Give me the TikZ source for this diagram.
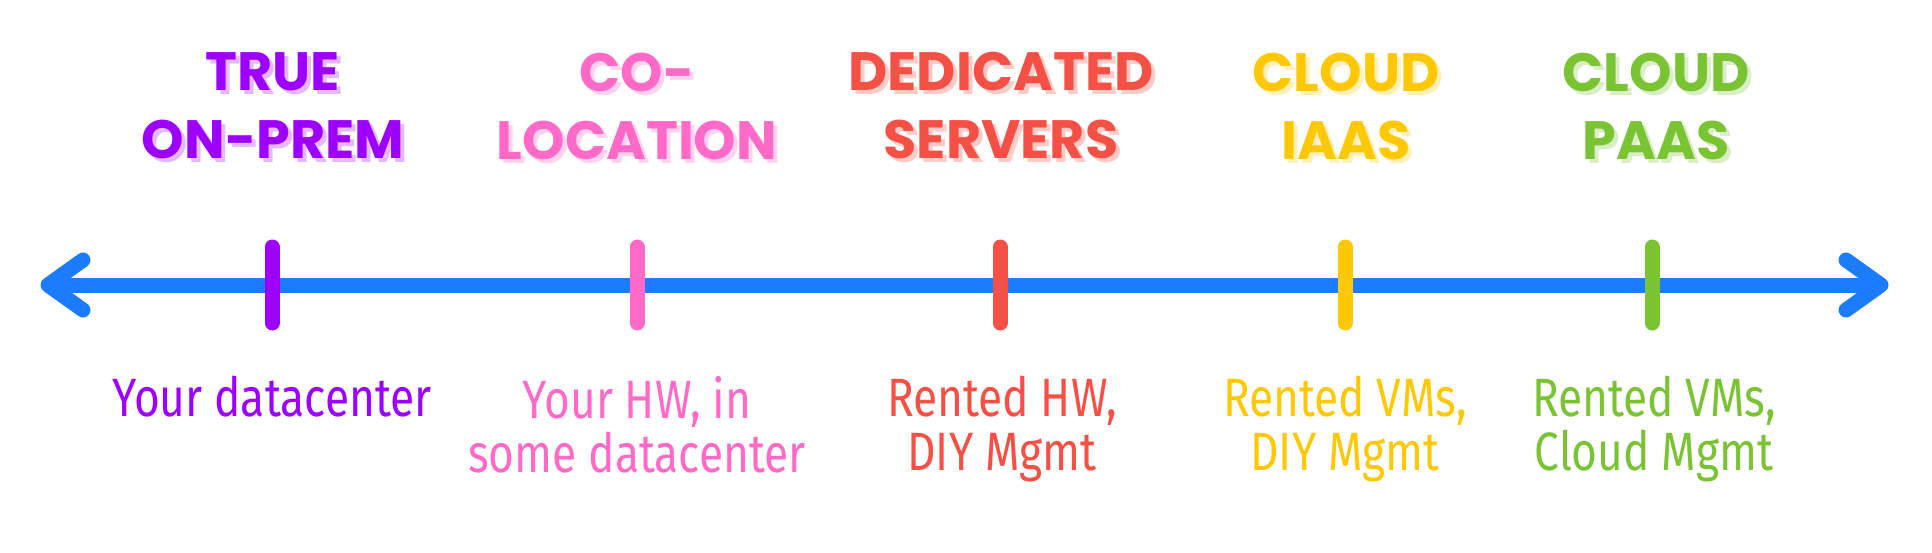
\documentclass[tikz,border=0pt]{standalone}
\usepackage{fontspec}
\usetikzlibrary{calc}
\setmainfont{Fira Sans}[FakeStretch=0.82]
\newfontfamily\titlefont{Poppins}
\definecolor{cpurple}{HTML}{9D00FF}
\definecolor{cpink}{HTML}{FF69C8}
\definecolor{cred}{HTML}{F55045}
\definecolor{cyellow}{HTML}{FFC805}
\definecolor{cgreen}{HTML}{7AC434}
\definecolor{cblue}{HTML}{1C7CFF}
\begin{document}
\begin{tikzpicture}[x=1pt,y=-1pt,
  axisline/.style={draw=cblue,line width=15pt,line cap=butt},
  chevron/.style={draw=cblue,line width=15pt,line cap=round,line join=round},
  tickmark/.style={line width=15pt,line cap=round},
  titletext/.style={inner sep=0pt,align=center,font=\titlefont\bfseries\fontsize{54}{68}\selectfont},
  desctext/.style={inner sep=0pt,align=center,anchor=north,font=\fontsize{54}{54}\selectfont}]
\useasboundingbox (0,0) rectangle (1932,552);
% axis
\coordinate (L) at (48,285);
\coordinate (R) at (1881,285);
\draw[axisline] (L) -- (R);
\draw[chevron] ($(L)+(35,-25)$) -- (L) -- ($(L)+(35,25)$);
\draw[chevron] ($(R)+(-35,-25)$) -- (R) -- ($(R)+(-35,25)$);
% ticks
\draw[tickmark,cpurple] (272,247) -- (272,323);
\draw[tickmark,cpink] (637,247) -- (637,323);
\draw[tickmark,cred] (1000,247) -- (1000,323);
\draw[tickmark,cyellow] (1345,247) -- (1345,323);
\draw[tickmark,cgreen] (1652,247) -- (1652,323);
% titles (shadow + main)
\node[titletext,text=cpurple!28] (t1s) at (277,110) {TRUE\\ON-PREM};
\node[titletext,text=cpurple] (t1) at (273,106) {TRUE\\ON-PREM};
\node[titletext,text=cpink!30] (t2s) at (641,110) {CO-\\LOCATION};
\node[titletext,text=cpink] (t2) at (637,106) {CO-\\LOCATION};
\node[titletext,text=cred!30] (t3s) at (1005,110) {DEDICATED\\SERVERS};
\node[titletext,text=cred] (t3) at (1001,106) {DEDICATED\\SERVERS};
\node[titletext,text=cyellow!28] (t4s) at (1350,110) {CLOUD\\IAAS};
\node[titletext,text=cyellow] (t4) at (1346,106) {CLOUD\\IAAS};
\node[titletext,text=cgreen!28] (t5s) at (1660,110) {CLOUD\\PAAS};
\node[titletext,text=cgreen] (t5) at (1656,106) {CLOUD\\PAAS};
% descriptions
\node[desctext,text=cpurple] (d1) at (272,376) {Your datacenter};
\node[desctext,text=cpink] (d2) at (637,376) {Your HW, in\\some datacenter};
\node[desctext,text=cred] (d3) at (1002,376) {Rented HW,\\DIY Mgmt};
\node[desctext,text=cyellow] (d4) at (1345,376) {Rented VMs,\\DIY Mgmt};
\node[desctext,text=cgreen] (d5) at (1654,376) {Rented VMs,\\Cloud Mgmt};
\end{tikzpicture}
\end{document}
